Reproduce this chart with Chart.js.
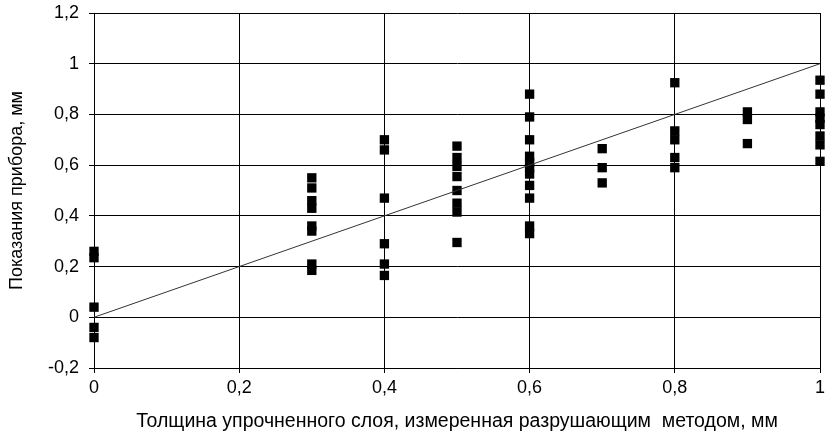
<!DOCTYPE html>
<html>
<head>
<meta charset="utf-8">
<script src="https://cdn.jsdelivr.net/npm/chart.js@4"></script>
<style>
    html, body { margin: 0; padding: 0; background: #fff; }
    #wrap { width: 835px; height: 438px; }
</style>
</head>
<body>
<div id="wrap"><canvas id="chart"></canvas></div>
<script>
/* data */
const depths = [0, 0.3, 0.4, 0.5, 0.6, 0.7, 0.8, 0.9, 1];
const readings00 = [0.26, 0.235, 0.04, -0.04, -0.08];
const readings03 = [0.55, 0.51, 0.46, 0.43, 0.36, 0.34, 0.21, 0.185];
const readings04 = [0.70, 0.66, 0.47, 0.29, 0.21, 0.165];
const readings05 = [0.675, 0.63, 0.595, 0.555, 0.50, 0.45, 0.415, 0.295];
const readings06 = [0.88, 0.79, 0.70, 0.635, 0.61, 0.59, 0.565, 0.52, 0.47, 0.36, 0.33];
const readings07 = [0.665, 0.59, 0.53];
const readings08 = [0.925, 0.735, 0.70, 0.63, 0.59];
const readings09 = [0.81, 0.78, 0.685];
const readings10 = [0.935, 0.88, 0.81, 0.785, 0.76, 0.715, 0.68, 0.615];

const lineX = [0, 1];
const lineY = [0, 1];

const yTitle = 'Показания прибора, мм';
const xTitle = 'Толщина упрочненного слоя, измеренная разрушающим  методом, мм';

/* helpers */
function formatComma(value) {
    const v = Math.round(value * 10) / 10;
    return String(v).replace('.', ',');
}

function buildPoints() {
    const groups = [readings00, readings03, readings04, readings05, readings06,
                    readings07, readings08, readings09, readings10];
    const pts = [];
    groups.forEach((g, i) => {
        g.forEach(y => pts.push({ x: depths[i], y: y }));
    });
    return pts;
}

const family = 'Liberation Sans, Arial, sans-serif';

new Chart(document.getElementById('chart'), {
    type: 'scatter',
    data: {
        datasets: [{
            data: lineX.map((x, i) => ({ x: x, y: lineY[i] })),
            showLine: true,
            borderColor: '#333',
            borderWidth: 1,
            pointRadius: 0,
            clip: false
        }, {
            data: buildPoints(),
            pointStyle: 'rect',
            pointRadius: 6.6,
            backgroundColor: '#000',
            borderColor: '#000',
            borderWidth: 0,
            clip: false
        }]
    },
    options: {
        responsive: true,
        maintainAspectRatio: false,
        animation: false,
        layout: { padding: { left: 0, right: 15, top: 13, bottom: 0 } },
        plugins: {
            legend: { display: false },
            tooltip: { enabled: false }
        },
        scales: {
            x: {
                type: 'linear',
                min: 0,
                max: 1,
                afterFit: s => {
                    s.height = 70;
                    s.paddingLeft = 0;
                    s.paddingRight = 0;
                },
                border: { color: '#000', width: 1 },
                grid: { color: '#000', lineWidth: 1, tickLength: 5 },
                ticks: {
                    stepSize: 0.2,
                    color: '#000',
                    font: { family: family, size: 18 },
                    padding: 4,
                    maxRotation: 0,
                    callback: formatComma
                },
                title: {
                    display: true,
                    text: xTitle,
                    color: '#000',
                    font: { family: family, size: 19.5 },
                    padding: { top: 0, bottom: 5 }
                }
            },
            y: {
                min: -0.2,
                max: 1.2,
                afterFit: s => {
                    s.width = 94;
                    s.paddingTop = 0;
                    s.paddingBottom = 0;
                },
                border: { color: '#000', width: 1 },
                grid: { color: '#000', lineWidth: 1, tickLength: 5 },
                ticks: {
                    stepSize: 0.2,
                    color: '#000',
                    font: { family: family, size: 18 },
                    padding: 10,
                    callback: formatComma
                },
                title: {
                    display: true,
                    text: yTitle,
                    color: '#000',
                    font: { family: family, size: 18 },
                    padding: { top: 6, bottom: 0 }
                }
            }
        }
    }
});
</script>
</body>
</html>
